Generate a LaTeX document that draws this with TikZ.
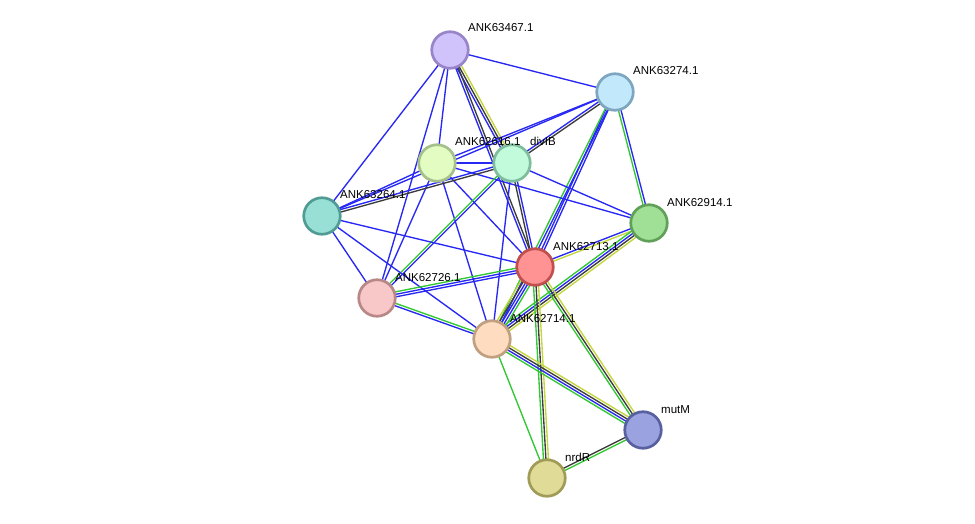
\documentclass[tikz,border=0pt]{standalone}
\usepackage{fontspec}
\setmainfont{Liberation Sans}
\usetikzlibrary{calc,backgrounds}
\definecolor{sb}{RGB}{40,40,245}
\definecolor{sk}{RGB}{60,60,60}
\definecolor{sg}{RGB}{50,200,50}
\definecolor{sy}{RGB}{195,215,60}
\newcount\secount
\newcommand\sedge[3]{%
  \global\secount=0
  \foreach \ecol in {#3}{\global\advance\secount by 1}%
  \foreach \ecol [count=\ei] in {#3}{%
    \pgfmathsetmacro\eoff{(\ei-(\the\secount+1)/2)*2.5}%
    \draw[edgeline,\ecol] ($(#1.center)!\eoff pt!90:(#2.center)$) -- ($(#2.center)!\eoff pt!-90:(#1.center)$);
  }}
\tikzset{
  prot/.style={circle,minimum size=36.5pt,inner sep=0pt,line width=2.7pt},
  edgeline/.style={line width=1.35pt},
  lab/.style={anchor=base west,font=\fontsize{11.5}{13}\selectfont,inner sep=0pt}
}
\begin{document}
\begin{tikzpicture}[x=1pt,y=-1pt]
\useasboundingbox (0,0) rectangle (975,524);
\node[prot,fill={rgb,255:red,208;green,194;blue,250},draw={rgb,255:red,152;green,132;blue,200}] (n63467) at (450,50) {};
\node[prot,fill={rgb,255:red,194;green,232;blue,252},draw={rgb,255:red,126;green,166;blue,192}] (n63274) at (615,92) {};
\node[prot,fill={rgb,255:red,226;green,252;blue,194},draw={rgb,255:red,166;green,192;blue,140}] (n62616) at (437,163) {};
\node[prot,fill={rgb,255:red,194;green,250;blue,220},draw={rgb,255:red,126;green,190;blue,156}] (ndivIB) at (512,163) {};
\node[prot,fill={rgb,255:red,152;green,224;blue,214},draw={rgb,255:red,80;green,156;blue,148}] (n63264) at (322,216) {};
\node[prot,fill={rgb,255:red,160;green,224;blue,150},draw={rgb,255:red,96;green,160;blue,88}] (n62914) at (649,223) {};
\node[prot,fill={rgb,255:red,255;green,146;blue,146},draw={rgb,255:red,192;green,80;blue,80}] (n62713) at (535,267) {};
\node[prot,fill={rgb,255:red,248;green,200;blue,200},draw={rgb,255:red,184;green,136;blue,136}] (n62726) at (377,298) {};
\node[prot,fill={rgb,255:red,253;green,220;blue,192},draw={rgb,255:red,192;green,160;blue,128}] (n62714) at (492,339) {};
\node[prot,fill={rgb,255:red,154;green,162;blue,224},draw={rgb,255:red,88;green,96;blue,160}] (nmutM) at (643,430) {};
\node[prot,fill={rgb,255:red,224;green,220;blue,152},draw={rgb,255:red,160;green,156;blue,88}] (nnrdR) at (547,478) {};
\node[lab] (l63467) at (468,32) {ANK63467.1};
\node[lab] (l63274) at (633,75) {ANK63274.1};
\node[lab] (l62616) at (455,146) {ANK62616.1};
\node[lab] (ldivIB) at (530,146) {divIB};
\node[lab] (l63264) at (340,199) {ANK63264.1};
\node[lab] (l62914) at (667,206) {ANK62914.1};
\node[lab] (l62713) at (553,250) {ANK62713.1};
\node[lab] (l62726) at (395,281) {ANK62726.1};
\node[lab] (l62714) at (510,322) {ANK62714.1};
\node[lab] (lmutM) at (661,413) {mutM};
\node[lab] (lnrdR) at (565,461) {nrdR};
\begin{pgfonlayer}{background}
\fill[white] (0,0) rectangle (975,524);
\sedge{n63467}{n63274}{sb}
\sedge{n63467}{n63264}{sb}
\sedge{n63467}{n62616}{sb}
\sedge{n63467}{n62726}{sb}
\sedge{n63467}{ndivIB}{sb,sk,sy}
\sedge{n63467}{n62713}{sb,sk}
\sedge{n63274}{n62616}{sb}
\sedge{n63274}{n63264}{sb}
\sedge{n63274}{ndivIB}{sb,sk}
\sedge{n63274}{n62713}{sb,sb}
\sedge{n63274}{n62714}{sg,sb}
\sedge{n63274}{n62914}{sg,sb}
\sedge{n62616}{ndivIB}{sb}
\sedge{n62616}{n63264}{sb}
\sedge{n62616}{n62726}{sb}
\sedge{n62616}{n62713}{sb}
\sedge{n62616}{n62714}{sb}
\sedge{n62616}{n62914}{sb}
\sedge{ndivIB}{n62914}{sb}
\sedge{ndivIB}{n62713}{sk,sb}
\sedge{ndivIB}{n62726}{sg,sb}
\sedge{ndivIB}{n62714}{sb}
\sedge{ndivIB}{n63264}{sb,sk}
\sedge{n63264}{n62713}{sb}
\sedge{n63264}{n62726}{sb}
\sedge{n63264}{n62714}{sb}
\sedge{n62726}{n62713}{sb,sb,sg}
\sedge{n62726}{n62714}{sb,sg}
\sedge{n62914}{n62713}{sb,sy}
\sedge{n62914}{n62714}{sg,sb,sk,sy}
\sedge{n62713}{n62714}{sy,sk,sb,sb,sg}
\sedge{n62713}{nmutM}{sg,sk,sy}
\sedge{n62713}{nnrdR}{sg,sk,sy}
\sedge{n62714}{nmutM}{sg,sb,sk,sy}
\sedge{n62714}{nnrdR}{sg}
\sedge{nmutM}{nnrdR}{sk,sg}
\end{pgfonlayer}
\end{tikzpicture}
\end{document}
